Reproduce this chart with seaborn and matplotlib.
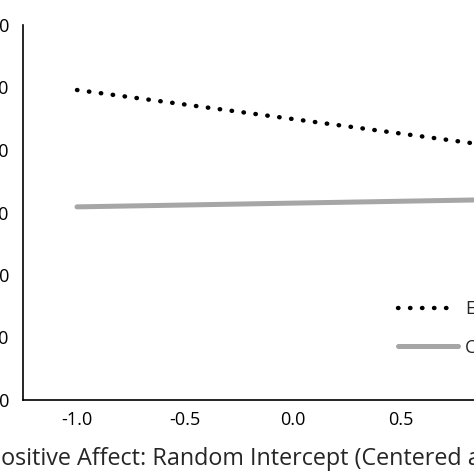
import matplotlib
matplotlib.use("Agg")
import matplotlib.pyplot as plt
import seaborn as sns
import pandas as pd

x_vals = [-1.0, 1.0]
exp_vals = [4.96, 4.03]
ctl_vals = [3.09, 3.21]
group_names = ["Experimental", "Control"]
y_ticks = [0, 1, 2, 3, 4, 5, 6]
y_labels = ["0.0", "1.0", "2.0", "3.0", "4.0", "5.0", "6.0"]
x_ticks = [-1.0, -0.5, 0.0, 0.5, 1.0]
x_labels = ["-1.0", "-0.5", "0.0", "0.5", "1.0"]
x_title = "Positive Affect: Random Intercept (Centered at Mean)"

df = pd.DataFrame({
    "x": x_vals * 2,
    "y": exp_vals + ctl_vals,
    "group": [group_names[0]] * 2 + [group_names[1]] * 2,
})

sns.set_style("white")
plt.rcParams["font.family"] = ["Open Sans", "DejaVu Sans"]

fig = plt.figure(figsize=(4.74, 4.74), dpi=100)
# axes run past the right edge, as in the cropped reference
ax = fig.add_axes([23 / 474, 74 / 474, 540 / 474, 375 / 474])

sns.lineplot(data=df, x="x", y="y", hue="group", style="group",
             palette={"Experimental": "black", "Control": "#a6a6a6"},
             dashes={"Experimental": (0.1, 2.6), "Control": ""},
             ax=ax, legend=False)
lines = ax.get_lines()
lines[0].set_linewidth(3.2)
lines[0].set_dash_capstyle("round")
lines[1].set_linewidth(3.6)

ax.set_xlim(-1.25, 1.25)
ax.set_ylim(0, 6)
ax.set_xticks(x_ticks)
ax.set_xticklabels(x_labels)
ax.set_yticks(y_ticks)
ax.set_yticklabels(y_labels)
ax.tick_params(length=0, labelsize=13, colors="black")
ax.tick_params(axis="y", pad=10)
ax.tick_params(axis="x", pad=8)
ax.set_xlabel("")
ax.set_ylabel("")
sns.despine(ax=ax)
for s in ["left", "bottom"]:
    ax.spines[s].set_color("black")
    ax.spines[s].set_linewidth(1.2)

# x title, placed so the crop cuts it like the reference
fig.text(-13 / 474, 9 / 474, x_title, fontsize=16.8, ha="left", va="baseline")

ax.legend(lines, group_names, loc="upper left", frameon=False,
          bbox_to_anchor=(398 / 474, 174 / 474), bbox_transform=fig.transFigure,
          fontsize=13, handlelength=3.3, handletextpad=0.4, labelspacing=1.15,
          borderpad=0, borderaxespad=0)

fig.savefig("out.png", dpi=100)
